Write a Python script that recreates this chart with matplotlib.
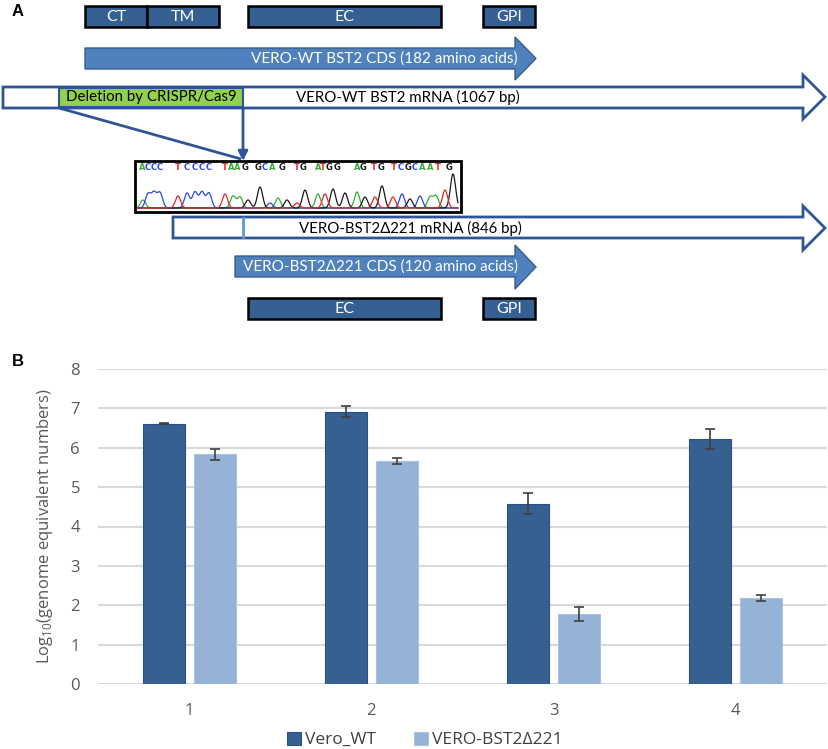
import numpy as np
import matplotlib
matplotlib.use("Agg")
import matplotlib.pyplot as plt
from matplotlib.patches import Polygon, Rectangle

plt.rcParams['font.family'] = ['Open Sans', 'DejaVu Sans']

# ---- panel B data ----
groups = ['1', '2', '3', '4']
series_names = ['Vero_WT', 'VERO-BST2\u0394221']
vero_wt = [6.61, 6.91, 4.58, 6.22]
vero_wt_err = [0.01, 0.14, 0.27, 0.25]
vero_ko = [5.83, 5.66, 1.78, 2.19]
vero_ko_err = [0.13, 0.08, 0.17, 0.07]
yticks = [0, 1, 2, 3, 4, 5, 6, 7, 8]

# ---- panel A: sanger read under the deletion junction ----
seq_letters = list('ACCCTCCCCTAAGGCAGTGATGGAGTGTCGCAATG')
seq_x = [142, 148, 154, 160, 178, 187, 195, 202, 209, 225, 231, 237, 245,
         258, 265, 272, 282, 297, 303, 318, 323, 329, 337, 357, 363, 374,
         381, 394, 401, 408, 415, 422, 430, 438, 449]
# peaks (x, height in px) per called base
peak_x = [143, 148, 154, 160, 178, 187, 195, 202, 209, 225, 233, 240, 248,
          260, 270, 278, 287, 297, 305, 318, 325, 333, 345, 357, 365, 375,
          382, 393, 402, 410, 420, 430, 436, 445, 453]
peak_h = [8, 14, 15, 15, 12, 15, 16, 16, 15, 14, 12, 11, 8,
          21, 5, 10, 8, 5, 18, 14, 14, 19, 15, 16, 11, 11,
          22, 11, 14, 9, 12, 11, 12, 18, 34]

base_colors = {'A': '#3aa83a', 'C': '#2f45e8', 'G': '#1a1a1a', 'T': '#e02828'}
dark_box = '#366092'
cds_blue = '#4f81bd'
outline = '#2f5597'

fig = plt.figure(figsize=(8.29, 7.49), dpi=100)

# ================= panel A (drawn in pixel space) =================
axA = fig.add_axes([0, 0, 1, 1])
axA.set_xlim(0, 829)
axA.set_ylim(749, 0)
axA.axis('off')

famA = ['Lato', 'DejaVu Sans']


def domain_box(x0, x1, y0, y1, label):
    axA.add_patch(Rectangle((x0, y0), x1 - x0, y1 - y0, facecolor=dark_box,
                            edgecolor='black', lw=1.8))
    axA.text((x0 + x1) / 2, (y0 + y1) / 2 + 0.5, label, color='white',
             ha='center', va='center', fontsize=11.5, family=famA)


def block_arrow(x0, xh, xt, yb0, yb1, yh0, yh1, fc, ec, lw):
    ym = (yh0 + yh1) / 2
    pts = [(x0, yb0), (xh, yb0), (xh, yh0), (xt, ym), (xh, yh1), (xh, yb1), (x0, yb1)]
    axA.add_patch(Polygon(pts, closed=True, facecolor=fc, edgecolor=ec, lw=lw,
                          joinstyle='miter'))


# top domains
domain_box(85, 147, 6, 27, 'CT')
domain_box(147, 219, 6, 27, 'TM')
domain_box(248, 441, 6, 27, 'EC')
domain_box(483, 535, 6, 27, 'GPI')

# WT CDS
block_arrow(85, 515, 536, 48, 69, 37, 80, cds_blue, '#385d8a', 1.0)
axA.text(384, 59, 'VERO-WT BST2 CDS (182 amino acids)', color='white',
         ha='center', va='center', fontsize=11, family=famA)

# WT mRNA
block_arrow(3, 803, 825, 87, 108, 75, 119, 'white', outline, 2.0)
axA.add_patch(Rectangle((59, 88), 184, 19, facecolor='#92d050',
                        edgecolor=outline, lw=1.5))
axA.text(151, 97.5, 'Deletion by CRISPR/Cas9', color='black', ha='center',
         va='center', fontsize=10.8, family=famA)
axA.text(408, 97.5, 'VERO-WT BST2 mRNA (1067 bp)', color='black', ha='center',
         va='center', fontsize=10.8, family=famA)

# junction lines
axA.plot([59, 241], [108, 159], color=outline, lw=2, solid_capstyle='butt')
axA.annotate('', xy=(243, 161), xytext=(243, 108),
             arrowprops=dict(arrowstyle='-|>', color=outline, lw=2,
                             mutation_scale=14, shrinkA=0, shrinkB=0))

# chromatogram
axA.add_patch(Rectangle((135, 161), 326, 51, facecolor='white',
                        edgecolor='black', lw=2, zorder=3))
for ch, xp in zip(seq_letters, seq_x):
    axA.text(xp, 167, ch, color=base_colors[ch], ha='center', va='center',
             fontsize=6, fontweight='bold', family=['DejaVu Sans'], zorder=4)
xs = np.linspace(138, 458, 700)
baseline = 208
for base in 'ACGT':
    trace = np.zeros_like(xs)
    for ch, px, h in zip(seq_letters, peak_x, peak_h):
        if ch == base:
            trace += h * np.exp(-0.5 * ((xs - px) / 2.6) ** 2)
    axA.plot(xs, baseline - trace, color=base_colors[base], lw=0.9, zorder=4)

# delta mRNA
block_arrow(173, 803, 825, 217, 238, 206, 250, 'white', outline, 2.0)
axA.plot([243, 243], [218, 237], color='#5b9bd5', lw=2)
axA.text(410, 228, 'VERO-BST2\u0394221 mRNA (846 bp)', color='black',
         ha='center', va='center', fontsize=10.8, family=famA)

# delta CDS
block_arrow(235, 515, 536, 256, 277, 245, 289, cds_blue, '#385d8a', 1.0)
axA.text(381, 267, 'VERO-BST2\u0394221 CDS (120 amino acids)', color='white',
         ha='center', va='center', fontsize=11, family=famA)

# lower domains
domain_box(248, 441, 298, 319, 'EC')
domain_box(483, 535, 298, 319, 'GPI')

axA.text(12, 11, 'A', fontsize=12, fontweight='bold', ha='left', va='center',
         family=['Liberation Sans'])
axA.text(12, 362, 'B', fontsize=12, fontweight='bold', ha='left', va='center',
         family=['Liberation Sans'])

# ================= panel B =================
ax = fig.add_axes([98 / 829, 65 / 749, 729 / 829, 315 / 749])
x = np.arange(1, len(groups) + 1)
w = 0.23
err_kw = dict(ecolor='#404040', elinewidth=1.2, capsize=3.5, capthick=1.2)
ax.bar(x - 0.14, vero_wt, w, yerr=vero_wt_err, color='#376092',
       edgecolor='#2b5182', lw=0.8, error_kw=err_kw, zorder=3,
       label=series_names[0])
ax.bar(x + 0.14, vero_ko, w, yerr=vero_ko_err, color='#95b3d7',
       edgecolor='#a9c3e3', lw=0.8, error_kw=err_kw, zorder=3,
       label=series_names[1])

ax.set_xlim(0.5, 4.5)
ax.set_ylim(0, 8)
ax.set_yticks(yticks)
ax.set_xticks(x)
ax.set_xticklabels(groups)
ax.yaxis.grid(True, color='#d9d9d9', lw=1.5, zorder=0)
ax.set_axisbelow(True)
for s in ax.spines.values():
    s.set_visible(False)
ax.tick_params(axis='both', length=0, labelsize=12, labelcolor='#595959')
ax.tick_params(axis='x', pad=14)
ax.tick_params(axis='y', pad=13)
ax.set_ylabel('Log$_{\\mathregular{10}}$(genome equivalent numbers)',
              fontsize=12, color='#595959', labelpad=11)

ax.legend(loc='center', bbox_to_anchor=(425 / 829, 1 - 740 / 749),
          bbox_transform=fig.transFigure, ncol=2, frameon=False,
          fontsize=12.5, handlelength=0.8, handleheight=0.8,
          handletextpad=0.25, columnspacing=2.2, labelcolor='#404040')

fig.savefig('out.png', dpi=100)
